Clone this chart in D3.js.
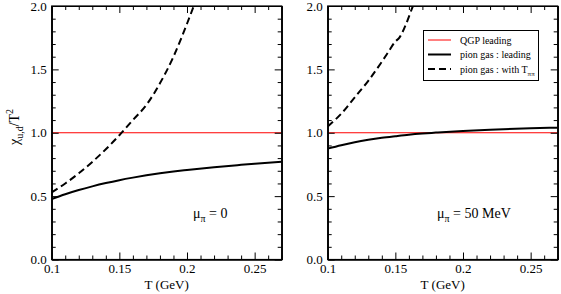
<!DOCTYPE html>
<meta charset="utf-8">
<head>
<script src="https://cdn.jsdelivr.net/npm/d3@7"></script>
<style>
  body { margin: 0; background: #fff; }
  svg text { font-family: "Liberation Serif", "Times New Roman", serif; fill: #000; }
</style>
</head>
<body>
<script>

// datos
var xTicks = [0.1, 0.15, 0.2, 0.25];
var xTickLabels = ["0.1", "0.15", "0.2", "0.25"];
var yTicks = [0, 0.5, 1.0, 1.5, 2.0];
var yTickLabels = ["0.0", "0.5", "1.0", "1.5", "2.0"];

var qgpT = [0.1, 0.27];
var qgpVal = [1.0, 1.0];

// panel izquierdo, mu_pi = 0
var leadT0 = [0.1, 0.11, 0.12, 0.13, 0.14, 0.15, 0.16, 0.17, 0.18, 0.19, 0.2, 0.22, 0.24, 0.25, 0.27];
var leadV0 = [0.477, 0.515, 0.548, 0.577, 0.603, 0.626, 0.646, 0.664, 0.68, 0.694, 0.706, 0.728, 0.747, 0.756, 0.772];
var tppT0 = [0.1, 0.11, 0.12, 0.13, 0.14, 0.15, 0.16, 0.17, 0.18, 0.19, 0.2, 0.205, 0.21];
var tppV0 = [0.53, 0.6, 0.68, 0.77, 0.87, 0.98, 1.1, 1.22, 1.39, 1.6, 1.86, 2.0, 2.15];

// panel derecho, mu_pi = 50 MeV
var leadT50 = [0.1, 0.11, 0.12, 0.13, 0.14, 0.15, 0.16, 0.17, 0.18, 0.2, 0.22, 0.25, 0.27];
var leadV50 = [0.875, 0.902, 0.925, 0.944, 0.96, 0.973, 0.985, 0.994, 1.001, 1.014, 1.024, 1.035, 1.04];
var tppT50 = [0.1, 0.11, 0.12, 0.13, 0.14, 0.145, 0.15, 0.153, 0.158, 0.163, 0.167];
var tppV50 = [1.05, 1.15, 1.28, 1.41, 1.56, 1.64, 1.72, 1.75, 1.86, 2.0, 2.1];

var legendLabels = ["QGP leading", "pion gas : leading", "pion gas : with T"];

var W = 561, H = 294;
var plotTop = 6, plotBottom = 259.5, pw = 230;
var serif = "Liberation Serif, Times New Roman, serif";
var panels = [
  {x0: 51.7, lt: leadT0, lv: leadV0, tt: tppT0, tv: tppV0, mu: "0", mux: 193, ylab: true, legend: false},
  {x0: 327.7, lt: leadT50, lv: leadV50, tt: tppT50, tv: tppV50, mu: "50 MeV", mux: 437, ylab: false, legend: true}
];

var svg = d3.select("body").append("svg")
  .attr("width", W).attr("height", H)
  .style("font-family", serif);

function zip(a, b) { return a.map(function(d, i) { return [d, b[i]]; }); }

panels.forEach(function(p, k) {
  var x = d3.scaleLinear().domain([0.1, 0.27]).range([p.x0, p.x0 + pw]);
  var y = d3.scaleLinear().domain([0, 2]).range([plotBottom, plotTop]);
  var g = svg.append("g");

  // clip
  svg.append("clipPath").attr("id", "clip" + k)
    .append("rect").attr("x", p.x0).attr("y", plotTop).attr("width", pw).attr("height", plotBottom - plotTop);

  var line = d3.line().x(function(d) { return x(d[0]); }).y(function(d) { return y(d[1]); })
    .curve(d3.curveMonotoneX);

  var plot = g.append("g").attr("clip-path", "url(#clip" + k + ")");
  plot.append("path").datum(zip(qgpT, qgpVal)).attr("d", line)
    .attr("fill", "none").attr("stroke", "#ff0000").attr("stroke-width", 1);
  plot.append("path").datum(zip(p.lt, p.lv)).attr("d", line)
    .attr("fill", "none").attr("stroke", "#000").attr("stroke-width", 2);
  plot.append("path").datum(zip(p.tt, p.tv)).attr("d", line)
    .attr("fill", "none").attr("stroke", "#000").attr("stroke-width", 2)
    .attr("stroke-dasharray", "7,4");

  // ejes: ticks hacia adentro en los cuatro lados
  var xMinor = d3.range(0.11, 0.27, 0.01).filter(function(v) { return Math.abs(Math.round(v * 20) - v * 20) > 1e-6; });
  var yMinor = d3.range(0.1, 2.0, 0.1).filter(function(v) { return Math.abs(Math.round(v * 2) - v * 2) > 1e-6; });

  var axB = d3.axisBottom(x).tickValues(xTicks).tickSizeInner(-7).tickSizeOuter(0).tickFormat(function(d, i) { return xTickLabels[i]; });
  var axT = d3.axisTop(x).tickValues(xTicks).tickSizeInner(-7).tickSizeOuter(0).tickFormat("");
  var axL = d3.axisLeft(y).tickValues(yTicks).tickSizeInner(-7).tickSizeOuter(0).tickFormat(function(d, i) { return yTickLabels[i]; });
  var axR = d3.axisRight(y).tickValues(yTicks).tickSizeInner(-7).tickSizeOuter(0).tickFormat("");

  var gb = g.append("g").attr("transform", "translate(0," + plotBottom + ")").call(axB);
  gb.attr("font-family", serif);
  gb.selectAll("text").attr("y", 4).style("font-size", "13px");
  g.append("g").attr("transform", "translate(0," + plotBottom + ")")
    .call(d3.axisBottom(x).tickValues(xMinor).tickSizeInner(-4).tickSizeOuter(0).tickFormat(""));
  g.append("g").attr("transform", "translate(0," + plotTop + ")").call(axT);
  g.append("g").attr("transform", "translate(0," + plotTop + ")")
    .call(d3.axisTop(x).tickValues(xMinor).tickSizeInner(-4).tickSizeOuter(0).tickFormat(""));
  var gl = g.append("g").attr("transform", "translate(" + p.x0 + ",0)").call(axL);
  gl.attr("font-family", serif);
  gl.selectAll("text").attr("x", -5).style("font-size", "13px");
  g.append("g").attr("transform", "translate(" + p.x0 + ",0)")
    .call(d3.axisLeft(y).tickValues(yMinor).tickSizeInner(-4).tickSizeOuter(0).tickFormat(""));
  g.append("g").attr("transform", "translate(" + (p.x0 + pw) + ",0)").call(axR);
  g.append("g").attr("transform", "translate(" + (p.x0 + pw) + ",0)")
    .call(d3.axisRight(y).tickValues(yMinor).tickSizeInner(-4).tickSizeOuter(0).tickFormat(""));

  g.selectAll(".domain").attr("stroke", "#000").attr("stroke-width", 1.2);
  g.selectAll(".tick line").attr("stroke", "#000");

  // marco
  g.append("rect").attr("x", p.x0).attr("y", plotTop).attr("width", pw).attr("height", plotBottom - plotTop)
    .attr("fill", "none").attr("stroke", "#000").attr("stroke-width", 1.2);

  // titulo eje x
  g.append("text").attr("x", p.x0 + pw / 2).attr("y", 289).attr("text-anchor", "middle")
    .style("font-size", "13px").text("T (GeV)");

  // etiqueta mu
  var mt = g.append("text").attr("x", p.mux).attr("y", 218).style("font-size", "14px");
  mt.append("tspan").text("μ");
  mt.append("tspan").attr("dy", 4).style("font-size", "10px").text("π");
  mt.append("tspan").attr("dy", -4).text(" = " + p.mu);

  if (p.ylab) {
    var yl = g.append("text").attr("transform", "translate(19,127) rotate(-90)")
      .attr("text-anchor", "middle").style("font-size", "14px");
    yl.append("tspan").text("χ");
    yl.append("tspan").attr("dy", 4).style("font-size", "10px").text("u,d");
    yl.append("tspan").attr("dy", -4).text("/T");
    yl.append("tspan").attr("dy", -6).style("font-size", "10px").text("2");
  }

  if (p.legend) {
    var lg = g.append("g");
    lg.append("rect").attr("x", 423.5).attr("y", 30.5).attr("width", 115).attr("height", 50)
      .attr("fill", "#fff").attr("stroke", "#000").attr("stroke-width", 1);
    var ly = [40, 54.5, 69];
    var styles = [
      {c: "#ff0000", w: 1, d: null},
      {c: "#000", w: 2, d: null},
      {c: "#000", w: 2, d: "7,4"}
    ];
    legendLabels.forEach(function(lab, i) {
      lg.append("line").attr("x1", 428).attr("x2", 451).attr("y1", ly[i]).attr("y2", ly[i])
        .attr("stroke", styles[i].c).attr("stroke-width", styles[i].w)
        .attr("stroke-dasharray", styles[i].d);
      var t = lg.append("text").attr("x", 460).attr("y", ly[i] + 3.5).style("font-size", "10px").text(lab);
      if (i === 2) {
        t.append("tspan").attr("dy", 3).style("font-size", "7px").text("ππ");
      }
    });
  }
});

</script>
</body>
